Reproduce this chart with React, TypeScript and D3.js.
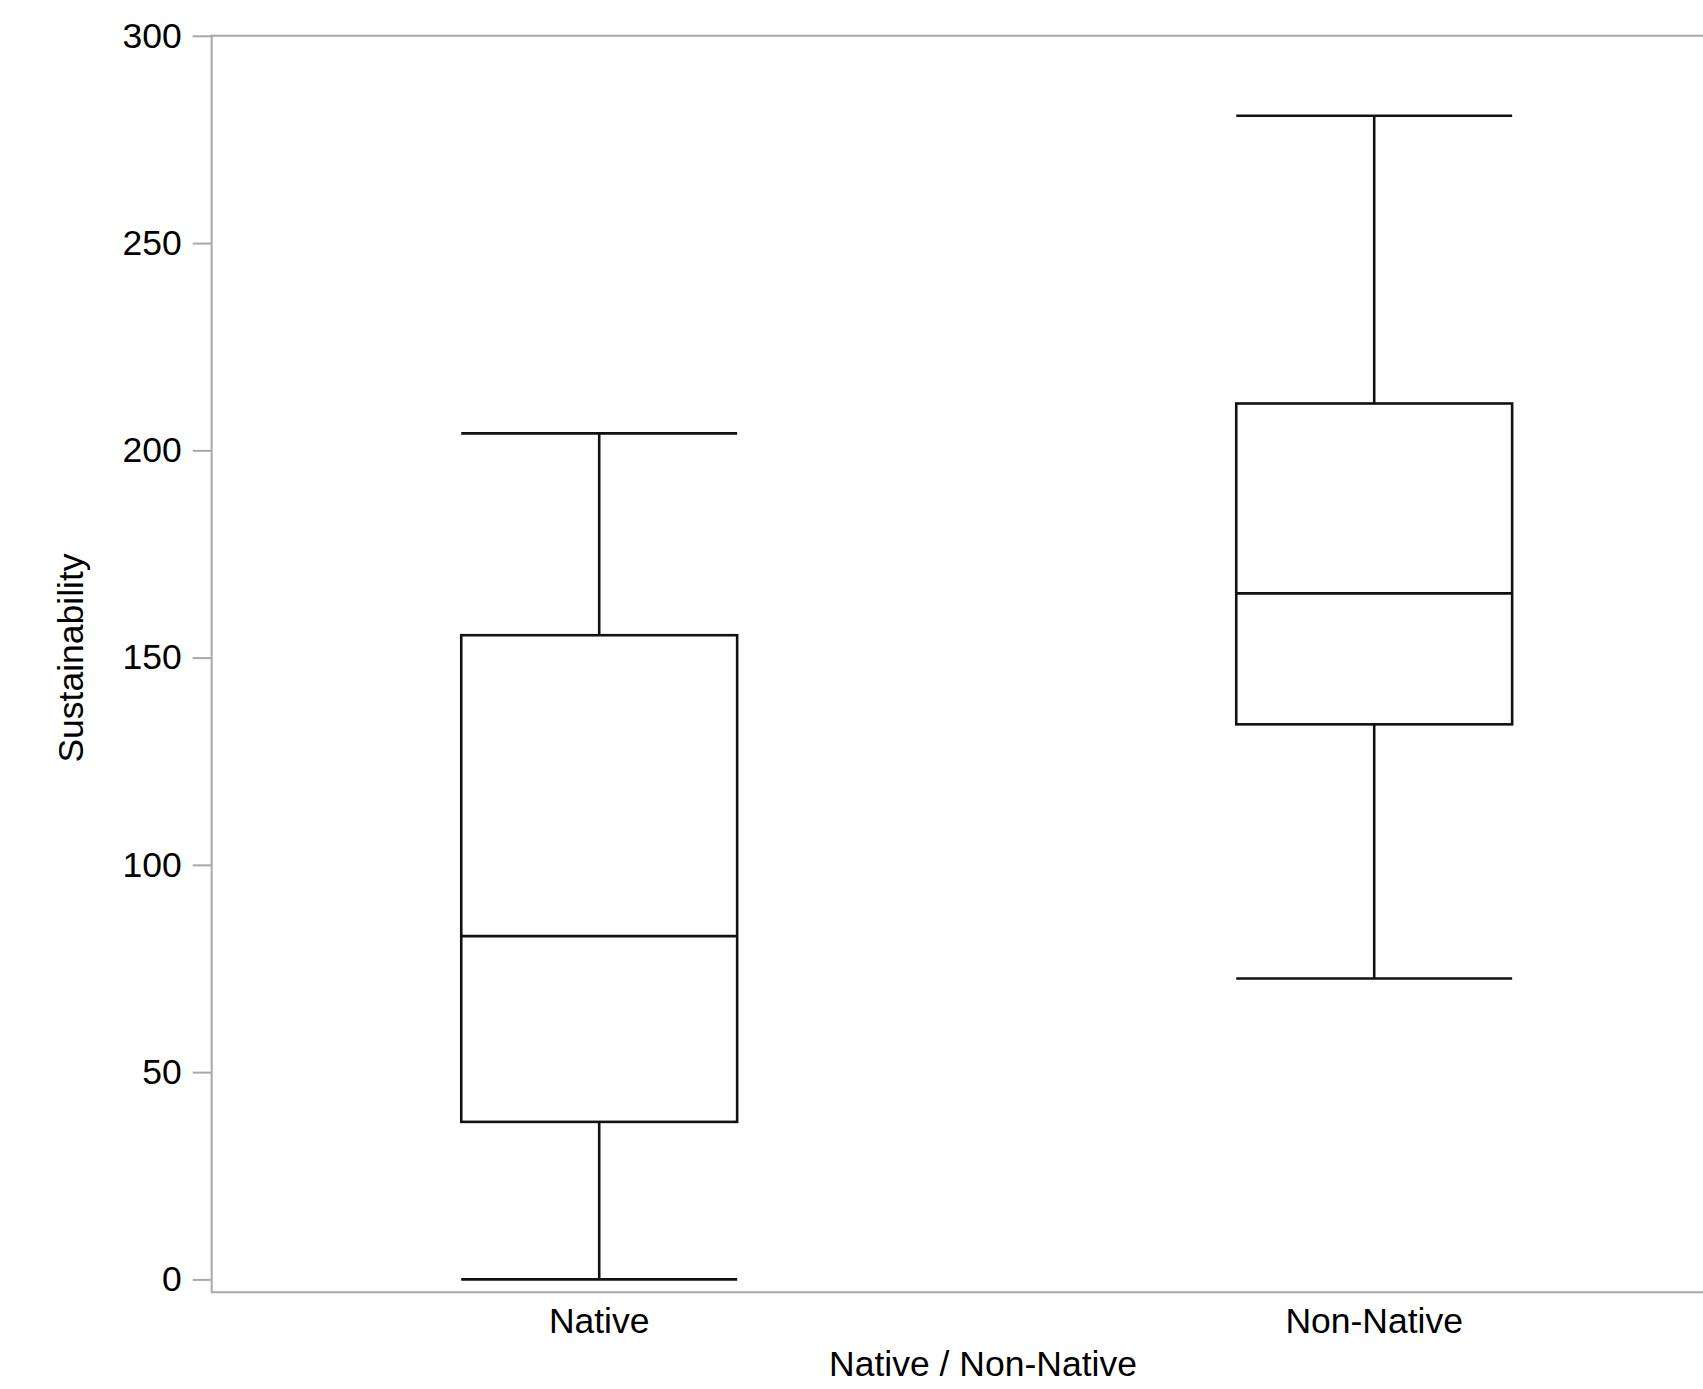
import React, { useEffect, useRef } from "react";
import * as d3 from "d3";

const categories = ["Native", "Non-Native"];
const mins = [0, 72.6];
const q1s = [38, 133.9];
const medians = [82.8, 165.5];
const q3s = [155.4, 211.3];
const maxs = [204.1, 280.7];
const yTicks = [0, 50, 100, 150, 200, 250, 300];

const width = 1703;
const height = 1389;
const font = "'Liberation Sans', Arial, Helvetica, sans-serif";
const fontSize = "35.5px";

export default function App() {
  const svgRef = useRef<SVGSVGElement>(null);

  useEffect(() => {
    document.body.style.margin = "0";
    if (!svgRef.current) return;
    const svg = d3.select(svgRef.current);
    svg.selectAll("*").remove();

    const left = 211.7;
    const top = 35.8;
    const zeroY = 1279.4;
    const frameBottom = 1292.3;

    const y = d3.scaleLinear().domain([0, 300]).range([zeroY, top]);
    const x = d3
      .scaleBand()
      .domain(categories)
      .range([left, left + 1550])
      .padding(0);
    const boxW = x.bandwidth() * 0.356;
    const cx = (c) => (x(c) as number) + x.bandwidth() / 2;

    // frame
    const axisColor = "#a8a8a8";
    svg
      .append("line")
      .attr("x1", left)
      .attr("x2", width)
      .attr("y1", top)
      .attr("y2", top)
      .attr("stroke", axisColor)
      .attr("stroke-width", 2);
    svg
      .append("line")
      .attr("x1", left)
      .attr("x2", width)
      .attr("y1", frameBottom)
      .attr("y2", frameBottom)
      .attr("stroke", axisColor)
      .attr("stroke-width", 2);

    // y axis
    const yAxis = svg
      .append("g")
      .attr("transform", `translate(${left},0)`)
      .call(d3.axisLeft(y).tickValues(yTicks).tickSize(19).tickPadding(11).tickSizeOuter(0));
    yAxis.select(".domain").remove();
    yAxis
      .append("line")
      .attr("x1", 0)
      .attr("x2", 0)
      .attr("y1", top - 1)
      .attr("y2", frameBottom + 1)
      .attr("stroke", axisColor)
      .attr("stroke-width", 2);
    yAxis.selectAll(".tick line").attr("stroke", axisColor).attr("stroke-width", 2);
    yAxis
      .selectAll(".tick text")
      .attr("fill", "#000")
      .style("font-family", font)
      .style("font-size", fontSize);

    // x labels
    svg
      .append("g")
      .selectAll("text")
      .data(categories)
      .enter()
      .append("text")
      .attr("x", (d) => cx(d))
      .attr("y", 1333)
      .attr("text-anchor", "middle")
      .attr("fill", "#000")
      .style("font-family", font)
      .style("font-size", fontSize)
      .text((d) => d);

    svg
      .append("text")
      .attr("x", 983)
      .attr("y", 1376)
      .attr("text-anchor", "middle")
      .attr("fill", "#000")
      .style("font-family", font)
      .style("font-size", fontSize)
      .text("Native / Non-Native");

    svg
      .append("text")
      .attr("transform", `translate(83,658) rotate(-90)`)
      .attr("text-anchor", "middle")
      .attr("fill", "#000")
      .style("font-family", font)
      .style("font-size", fontSize)
      .text("Sustainability");

    // boxes
    const g = svg
      .append("g")
      .selectAll("g")
      .data(categories)
      .enter()
      .append("g")
      .attr("stroke", "#111")
      .attr("stroke-width", 2.6)
      .attr("fill", "none");

    g.append("line")
      .attr("x1", (d) => cx(d))
      .attr("x2", (d) => cx(d))
      .attr("y1", (d, i) => y(maxs[i]))
      .attr("y2", (d, i) => y(q3s[i]));
    g.append("line")
      .attr("x1", (d) => cx(d))
      .attr("x2", (d) => cx(d))
      .attr("y1", (d, i) => y(q1s[i]))
      .attr("y2", (d, i) => y(mins[i]));
    g.append("line")
      .attr("x1", (d) => cx(d) - boxW / 2)
      .attr("x2", (d) => cx(d) + boxW / 2)
      .attr("y1", (d, i) => y(maxs[i]))
      .attr("y2", (d, i) => y(maxs[i]));
    g.append("line")
      .attr("x1", (d) => cx(d) - boxW / 2)
      .attr("x2", (d) => cx(d) + boxW / 2)
      .attr("y1", (d, i) => y(mins[i]))
      .attr("y2", (d, i) => y(mins[i]));
    g.append("rect")
      .attr("x", (d) => cx(d) - boxW / 2)
      .attr("width", boxW)
      .attr("y", (d, i) => y(q3s[i]))
      .attr("height", (d, i) => y(q1s[i]) - y(q3s[i]));
    g.append("line")
      .attr("x1", (d) => cx(d) - boxW / 2)
      .attr("x2", (d) => cx(d) + boxW / 2)
      .attr("y1", (d, i) => y(medians[i]))
      .attr("y2", (d, i) => y(medians[i]));
  }, []);

  return (
    <svg
      ref={svgRef}
      width={width}
      height={height}
      style={{ display: "block", background: "#fff" }}
    ></svg>
  );
}
